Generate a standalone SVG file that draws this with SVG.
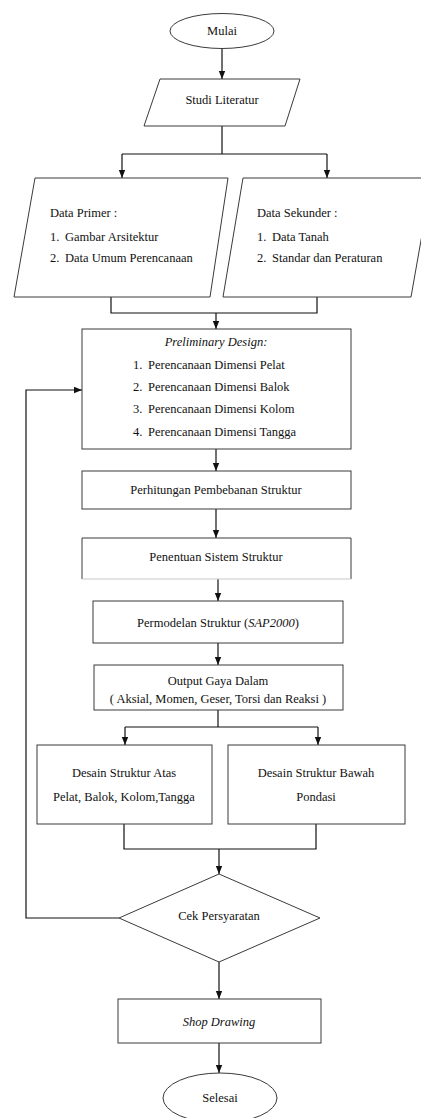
<svg xmlns="http://www.w3.org/2000/svg" width="421" height="1118" viewBox="0 0 421 1118">
<style>
  .shape { fill: #ffffff; stroke: #3a3a3a; stroke-width: 1; }
  .conn { fill: none; stroke: #111; stroke-width: 1.2; }
  text { font-family: "Liberation Serif", "Times New Roman", serif; font-size: 12.5px; fill: #111; }
  .c { text-anchor: middle; }
  .i { font-style: italic; }
</style>
<defs>
  <marker id="arr" markerUnits="userSpaceOnUse" markerWidth="8" markerHeight="8" viewBox="0 0 8 8" refX="8" refY="4" orient="auto">
    <path d="M0,0.8 L8,4 L0,7.2 Z" fill="#111"/>
  </marker>
</defs>
<rect width="421" height="1118" fill="#ffffff"/>

<g id="connectors">
  <path class="conn" d="M222,48 V79" marker-end="url(#arr)"/>
  <path class="conn" d="M222,126 V154 M122,154 H327"/>
  <path class="conn" d="M122,154 V178" marker-end="url(#arr)"/>
  <path class="conn" d="M327,154 V178" marker-end="url(#arr)"/>
  <path class="conn" d="M111,297 V313 H317 V297"/>
  <path class="conn" d="M216,313 V329" marker-end="url(#arr)"/>
  <path class="conn" d="M216,449 V471" marker-end="url(#arr)"/>
  <path class="conn" d="M216,509 V538" marker-end="url(#arr)"/>
  <path class="conn" d="M218,579 V601" marker-end="url(#arr)"/>
  <path class="conn" d="M218,643 V665" marker-end="url(#arr)"/>
  <path class="conn" d="M218,710 V727 M125,727 H318"/>
  <path class="conn" d="M125,727 V745" marker-end="url(#arr)"/>
  <path class="conn" d="M318,727 V745" marker-end="url(#arr)"/>
  <path class="conn" d="M124,824 V849 H316 V824"/>
  <path class="conn" d="M219,849 V874" marker-end="url(#arr)"/>
  <path class="conn" d="M119,918 H26 V390 H82" marker-end="url(#arr)"/>
  <path class="conn" d="M219,962 V999" marker-end="url(#arr)"/>
  <path class="conn" d="M219,1043 V1073" marker-end="url(#arr)"/>
</g>

<g id="mulai">
  <ellipse class="shape" cx="222" cy="31" rx="52" ry="17.5"/>
  <text class="c" x="222" y="35">Mulai</text>
</g>

<g id="studi-literatur">
  <polygon class="shape" points="160,79 300,79 285,126 144,126"/>
  <text class="c" x="222" y="104">Studi Literatur</text>
</g>

<g id="data-primer">
  <polygon class="shape" points="35,178 228,178 210,297 14,297"/>
  <text x="50" y="217">Data Primer :</text>
  <text x="50" y="241">1.</text><text x="65" y="241">Gambar Arsitektur</text>
  <text x="50" y="262">2.</text><text x="65" y="262">Data Umum Perencanaan</text>
</g>

<g id="data-sekunder">
  <polygon class="shape" points="243,178 432,178 411,297 223,297"/>
  <text x="257" y="217">Data Sekunder :</text>
  <text x="257" y="241">1.</text><text x="272" y="241">Data Tanah</text>
  <text x="257" y="262">2.</text><text x="272" y="262">Standar dan Peraturan</text>
</g>

<g id="preliminary-design">
  <rect class="shape" x="82" y="329" width="269" height="120"/>
  <text class="c i" x="216" y="346">Preliminary Design:</text>
  <text x="133" y="369">1.</text><text x="148" y="369">Perencanaan Dimensi Pelat</text>
  <text x="133" y="391">2.</text><text x="148" y="391">Perencanaan Dimensi Balok</text>
  <text x="133" y="413">3.</text><text x="148" y="413">Perencanaan Dimensi Kolom</text>
  <text x="133" y="436">4.</text><text x="148" y="436">Perencanaan Dimensi Tangga</text>
</g>

<g id="perhitungan-pembebanan">
  <rect class="shape" x="82" y="471" width="269" height="38"/>
  <text class="c" x="216" y="494">Perhitungan Pembebanan Struktur</text>
</g>

<g id="penentuan-sistem">
  <rect x="82" y="538" width="269" height="41" fill="#ffffff"/>
  <path d="M82,579 V538 H351 V579" fill="none" stroke="#3a3a3a" stroke-width="1"/>
  <path d="M82,579 H351" fill="none" stroke="#c8c8c8" stroke-width="1"/>
  <text class="c" x="216" y="561">Penentuan Sistem Struktur</text>
</g>

<g id="permodelan">
  <rect class="shape" x="93" y="601" width="250" height="42"/>
  <text class="c" x="218" y="627">Permodelan Struktur (<tspan class="i">SAP2000</tspan>)</text>
</g>

<g id="output-gaya">
  <rect class="shape" x="94" y="665" width="249" height="45"/>
  <text class="c" x="218" y="685">Output Gaya Dalam</text>
  <text class="c" x="218" y="703">( Aksial, Momen, Geser, Torsi dan Reaksi )</text>
</g>

<g id="desain-atas">
  <rect class="shape" x="37" y="745" width="175" height="79"/>
  <text class="c" x="124" y="777">Desain Struktur Atas</text>
  <text class="c" x="124" y="801">Pelat, Balok, Kolom,Tangga</text>
</g>

<g id="desain-bawah">
  <rect class="shape" x="228" y="745" width="177" height="79"/>
  <text class="c" x="316" y="777">Desain Struktur Bawah</text>
  <text class="c" x="316" y="801">Pondasi</text>
</g>

<g id="cek-persyaratan">
  <polygon class="shape" points="219,874 320,918 219,962 119,918"/>
  <text class="c" x="219" y="920">Cek Persyaratan</text>
</g>

<g id="shop-drawing">
  <rect class="shape" x="118" y="999" width="203" height="44"/>
  <text class="c i" x="219" y="1026">Shop Drawing</text>
</g>

<g id="selesai">
  <ellipse class="shape" cx="220" cy="1098" rx="57" ry="25"/>
  <text class="c" x="220" y="1102">Selesai</text>
</g>
</svg>
